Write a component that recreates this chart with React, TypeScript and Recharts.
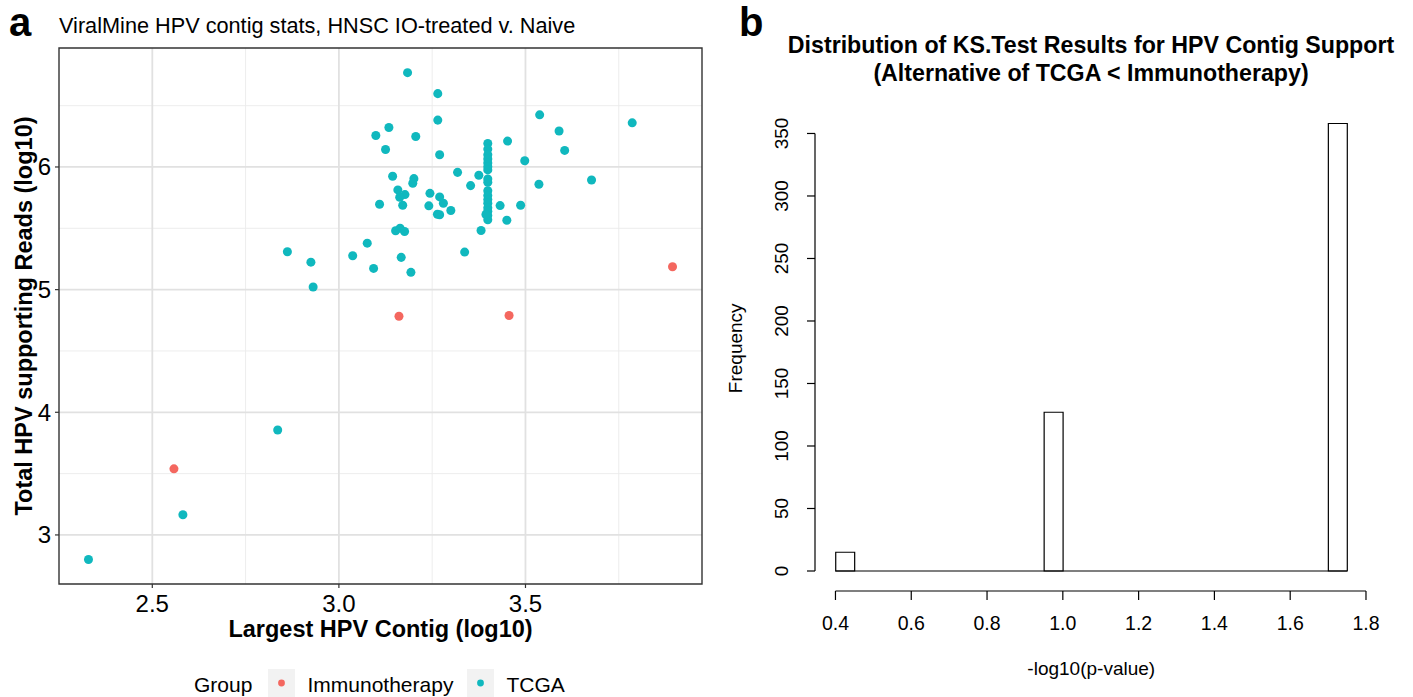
import {
    ScatterChart,
    Scatter,
    ComposedChart,
    Bar,
    XAxis,
    YAxis,
    ZAxis,
    CartesianGrid,
    ReferenceArea,
    ReferenceLine
} from 'recharts';

const FONT = '"Liberation Sans", Arial, Helvetica, sans-serif';
const RED = '#F4675F';
const TEAL = '#10B8BE';

// panel a: log10 largest contig vs log10 total supporting reads
const immunoContig = [3.161, 3.456, 3.894, 2.558];
const immunoReads = [4.783, 4.789, 5.187, 3.539];

const tcgaContig = [
    3.184, 3.265, 3.265, 3.538, 3.786, 3.590, 3.134, 3.099, 3.206, 3.125, 3.605, 3.452, 3.270, 3.498,
    3.399, 3.399, 3.399, 3.399, 3.399, 3.399, 3.399, 3.399, 3.399, 3.399, 3.399, 3.399, 3.399, 3.399,
    3.399, 3.399, 3.399,
    3.394, 3.318, 3.375, 3.353, 3.144, 3.201, 3.198, 3.158, 3.177, 3.163, 3.109, 3.171, 3.244, 3.270,
    3.280, 3.241, 3.300, 3.264, 3.270, 3.432, 3.487, 3.536, 3.677, 3.450, 3.381, 3.152, 3.164, 3.176,
    3.076, 3.037, 3.337, 3.167, 3.093, 3.193, 2.862, 2.925, 2.931, 2.836, 2.582, 2.329
];
const tcgaReads = [
    6.769, 6.598, 6.382, 6.425, 6.360, 6.293, 6.322, 6.257, 6.249, 6.143, 6.135, 6.211, 6.100, 6.051,
    6.192, 6.146, 6.100, 6.065, 6.033, 6.002, 5.976, 5.902, 5.875, 5.807, 5.767, 5.734, 5.704, 5.667,
    5.639, 5.604, 5.569,
    5.612, 5.956, 5.932, 5.848, 5.924, 5.905, 5.867, 5.813, 5.775, 5.753, 5.696, 5.688, 5.785, 5.756,
    5.704, 5.683, 5.645, 5.615, 5.610, 5.685, 5.688, 5.859, 5.894, 5.566, 5.482, 5.480, 5.501, 5.474,
    5.379, 5.276, 5.306, 5.263, 5.173, 5.141, 5.309, 5.224, 5.021, 3.856, 3.165, 2.800
];

const scatterXTicks = [2.5, 3.0, 3.5];
const scatterYTicks = [3, 4, 5, 6];
const scatterXMinor = [2.75, 3.25, 3.75];
const scatterYMinor = [3.5, 4.5, 5.5, 6.5];
const scatterXDomain = [2.25, 3.973];
const scatterYDomain = [2.6, 6.97];

// panel b: histogram of -log10(p-value)
const histBinMid = [0.425, 0.975, 1.725];
const histCounts = [15, 127, 358];
const histBinWidth = 0.05;
const histRange = [0.4, 1.75];
const histXTicks = [0.4, 0.6, 0.8, 1.0, 1.2, 1.4, 1.6, 1.8];
const histYTicks = [0, 50, 100, 150, 200, 250, 300, 350];
const histXDomain = [0.346, 1.804];
const histYDomain = [-16, 372.3];

const immunoData = immunoContig.map((c, i) => ({ contig: c, reads: immunoReads[i] }));
const tcgaData = tcgaContig.map((c, i) => ({ contig: c, reads: tcgaReads[i] }));
const histData = histBinMid.map((m, i) => ({ mid: m, count: histCounts[i] }));

const HIST_W = 703;
const HIST_H = 697;
const HIST_MARGIN = { top: 105.6, right: 45.5, bottom: 46, left: 0 };
const HIST_YAXIS_W = 105;
const histPlotW = HIST_W - HIST_MARGIN.left - HIST_MARGIN.right - HIST_YAXIS_W;
const histBarSize = (histBinWidth * histPlotW) / (histXDomain[1] - histXDomain[0]);

const HistYTick = (props: any) => {
    const { x, y, payload } = props;
    return (
        <text x={x} y={y} transform={`rotate(-90 ${x} ${y})`} textAnchor="middle"
            fontFamily={FONT} fontSize={19} fill="#000">
            {payload.value}
        </text>
    );
};

const App = () => {
    return (
        <div style={{ position: 'absolute', left: 0, top: 0, width: 1413, height: 697, background: '#fff' }}>
            <div style={{ position: 'absolute', left: 0, top: 0 }}>
                <ScatterChart width={710} height={697} margin={{ top: 48, right: 8, bottom: 53, left: 0 }}>
                    <CartesianGrid verticalValues={scatterXMinor} horizontalValues={scatterYMinor}
                        stroke="#EBEBEB" strokeWidth={0.9} />
                    <CartesianGrid verticalValues={scatterXTicks} horizontalValues={scatterYTicks}
                        stroke="#E1E1E1" strokeWidth={1.8} />
                    <XAxis
                        type="number"
                        dataKey="contig"
                        domain={scatterXDomain}
                        allowDataOverflow
                        ticks={scatterXTicks}
                        tickFormatter={(v) => v.toFixed(1)}
                        height={60}
                        axisLine={false}
                        tickLine={{ stroke: '#333', strokeWidth: 1.2 }}
                        tickSize={4}
                        tickMargin={7}
                        tick={{ fontFamily: FONT, fontSize: 24, fill: '#000' }}
                        label={(p: any) => (
                            <text x={p.viewBox.x + p.viewBox.width / 2} y={p.viewBox.y + 53} textAnchor="middle"
                                fontFamily={FONT} fontSize={23.5} fontWeight="bold" fill="#000">
                                Largest HPV Contig (log10)
                            </text>
                        )}
                    />
                    <YAxis
                        type="number"
                        dataKey="reads"
                        domain={scatterYDomain}
                        allowDataOverflow
                        ticks={scatterYTicks}
                        width={59}
                        axisLine={false}
                        tickLine={{ stroke: '#333', strokeWidth: 1.2 }}
                        tickSize={4}
                        tickMargin={4}
                        tick={{ fontFamily: FONT, fontSize: 24, fill: '#000' }}
                        label={(p: any) => {
                            const cx = 32;
                            const cy = p.viewBox.y + p.viewBox.height / 2;
                            return (
                                <text x={cx} y={cy} transform={`rotate(-90 ${cx} ${cy})`} textAnchor="middle"
                                    fontFamily={FONT} fontSize={23.5} fontWeight="bold" fill="#000">
                                    Total HPV supporting Reads (log10)
                                </text>
                            );
                        }}
                    />
                    <ZAxis range={[36, 36]} />
                    <ReferenceArea x1={scatterXDomain[0]} x2={scatterXDomain[1]} y1={scatterYDomain[0]} y2={scatterYDomain[1]}
                        fill="none" fillOpacity={0} stroke="#333" strokeWidth={1.4} ifOverflow="visible" />
                    <Scatter name="TCGA" data={tcgaData} fill={TEAL} isAnimationActive={false} />
                    <Scatter name="Immunotherapy" data={immunoData} fill={RED} isAnimationActive={false} />
                </ScatterChart>
            </div>
            <div style={{ position: 'absolute', left: 710, top: 0 }}>
                <ComposedChart width={HIST_W} height={HIST_H} data={histData} margin={HIST_MARGIN}>
                    <XAxis
                        type="number"
                        dataKey="mid"
                        domain={histXDomain}
                        allowDataOverflow
                        ticks={histXTicks}
                        tickFormatter={(v) => v.toFixed(1)}
                        height={60}
                        axisLine={false}
                        tickLine={{ stroke: '#000', strokeWidth: 1.2 }}
                        tickSize={9}
                        tickMargin={16}
                        tick={{ fontFamily: FONT, fontSize: 19.5, fill: '#000' }}
                        label={(p: any) => (
                            <text x={p.viewBox.x + p.viewBox.width / 2} y={p.viewBox.y + 84} textAnchor="middle"
                                fontFamily={FONT} fontSize={19} fill="#000">
                                -log10(p-value)
                            </text>
                        )}
                    />
                    <YAxis
                        type="number"
                        domain={histYDomain}
                        allowDataOverflow
                        ticks={histYTicks}
                        width={HIST_YAXIS_W}
                        axisLine={false}
                        tickLine={{ stroke: '#000', strokeWidth: 1.2 }}
                        tickSize={8}
                        tickMargin={19}
                        tick={<HistYTick />}
                        label={(p: any) => {
                            const cx = 32;
                            const cy = p.viewBox.y + p.viewBox.height / 2;
                            return (
                                <text x={cx} y={cy} transform={`rotate(-90 ${cx} ${cy})`} textAnchor="middle"
                                    fontFamily={FONT} fontSize={19} fill="#000">
                                    Frequency
                                </text>
                            );
                        }}
                    />
                    <ReferenceLine segment={[{ x: histXDomain[0], y: histYTicks[0] }, { x: histXDomain[0], y: histYTicks[histYTicks.length - 1] }]}
                        stroke="#000" strokeWidth={1.2} ifOverflow="visible" />
                    <ReferenceLine segment={[{ x: histXTicks[0], y: histYDomain[0] }, { x: histXTicks[histXTicks.length - 1], y: histYDomain[0] }]}
                        stroke="#000" strokeWidth={1.2} ifOverflow="visible" />
                    <ReferenceLine segment={[{ x: histRange[0], y: 0 }, { x: histRange[1], y: 0 }]}
                        stroke="#000" strokeWidth={1.2} ifOverflow="visible" />
                    <Bar dataKey="count" barSize={histBarSize} fill="#fff" stroke="#000" strokeWidth={1.2}
                        isAnimationActive={false} />
                </ComposedChart>
            </div>
            <svg width={1413} height={697} style={{ position: 'absolute', left: 0, top: 0, pointerEvents: 'none' }}>
                <text x={9} y={36} fontFamily={FONT} fontSize={40} fontWeight="bold" fill="#000">a</text>
                <text x={59} y={33} fontFamily={FONT} fontSize={21.7} fill="#000">
                    ViralMine HPV contig stats, HNSC IO-treated v. Naive
                </text>
                <text x={739} y={36} fontFamily={FONT} fontSize={40} fontWeight="bold" fill="#000">b</text>
                <text x={1091} y={53} textAnchor="middle" fontFamily={FONT} fontSize={23.2} fontWeight="bold" fill="#000">
                    Distribution of KS.Test Results for HPV Contig Support
                </text>
                <text x={1091} y={81} textAnchor="middle" fontFamily={FONT} fontSize={23.2} fontWeight="bold" fill="#000">
                    (Alternative of TCGA &lt; Immunotherapy)
                </text>
                <g fontFamily={FONT} fontSize={21} fill="#000">
                    <text x={194} y={691.5}>Group</text>
                    <rect x={268} y={669} width={27} height={28} fill="#F2F2F2" />
                    <circle cx={281.5} cy={683} r={3.4} fill={RED} />
                    <text x={307.5} y={691.5}>Immunotherapy</text>
                    <rect x={467} y={669} width={27} height={28} fill="#F2F2F2" />
                    <circle cx={480.5} cy={683} r={3.4} fill={TEAL} />
                    <text x={506.5} y={691.5}>TCGA</text>
                </g>
            </svg>
        </div>
    );
};

export default App;
